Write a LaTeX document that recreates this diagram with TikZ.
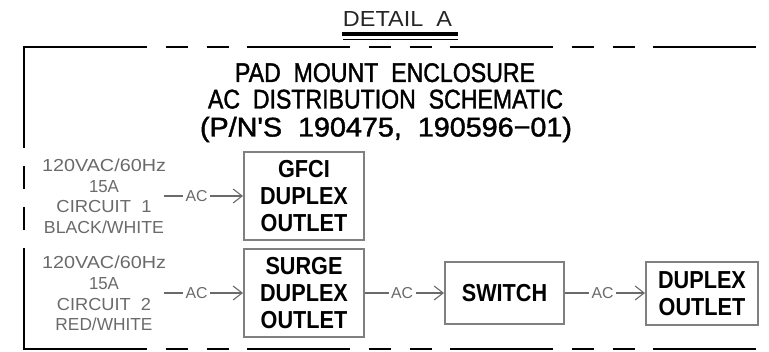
\documentclass[tikz,border=0pt]{standalone}
\usepackage{fontspec}
\usepackage{graphicx}
\setmainfont{Liberation Sans}
\newfontfamily\boxfont[FakeStretch=0.88]{Liberation Sans}
\newfontfamily\titlefont[FakeBold=1.5]{Liberation Sans}
\usetikzlibrary{arrows.meta}
\definecolor{lblgray}{HTML}{6A6A6A}
\definecolor{boxgray}{HTML}{808080}
\newcommand\fitw[2]{\resizebox{#1}{\height}{#2}}
\begin{document}
\begin{tikzpicture}[x=1pt,y=-1pt,
  border/.style={line width=2.5pt, black},
  dashedborder/.style={border, dash pattern=on 103pt off 18.5pt on 22.5pt off 18.5pt on 22.5pt off 18pt, dash phase=103pt},
  unit/.style={draw=boxgray, line width=2pt, inner sep=0pt, align=center, font=\boxfont\bfseries\fontsize{24.6pt}{27pt}\selectfont},
  circ/.style={inner sep=0pt, align=center, text=lblgray, font=\fontsize{17.4pt}{20.6pt}\selectfont},
  title/.style={inner sep=0pt, anchor=base, font=\titlefont\fontsize{27pt}{27pt}\selectfont},
  conn/.style={draw=lblgray, line width=1.1pt, -{Straight Barb[length=9pt,width=14pt]}},
  ac/.style={fill=white, inner sep=2.5pt, text=lblgray, font=\fontsize{15.8pt}{16pt}\selectfont}
]
\path[use as bounding box] (0,0) rectangle (769,352);
% enclosure border
\draw[border] (24,148) -- (24,47) -- (147,47);
\draw[dashedborder] (147,47) -- (769,47);
\draw[dashedborder] (24,148) -- (24,248);
\draw[border] (24,248) -- (24,349) -- (147,349);
\draw[dashedborder] (147,349) -- (769,349);
% detail label
\node[inner sep=0pt, anchor=base, text=black!85, font=\fontsize{21.8pt}{22pt}\selectfont] (det) at (397.5,27) {\fitw{109pt}{DETAIL\ \ A}};
\draw[line width=4pt] (342,34) -- (458,34);
\draw[line width=1.2pt] (343,39.5) -- (458,39.5);
% title
\node[title] (t1) at (385,82) {\fitw{300pt}{PAD\ \ MOUNT\ \ ENCLOSURE}};
\node[title] (t2) at (385.5,108.5) {\fitw{355pt}{AC\ \ DISTRIBUTION\ \ SCHEMATIC}};
\node[title] (t3) at (386,136.5) {\fitw{372pt}{(P/N'S\ \ 190475,\ \ 190596−01)}};
% circuit labels
\node[circ] (c1) at (104,196.3) {\fitw{124pt}{120VAC/60Hz}\\\fitw{30pt}{15A}\\\fitw{95pt}{CIRCUIT\ \ 1}\\\fitw{120pt}{BLACK/WHITE}};
\node[circ] (c2) at (104,293.5) {\fitw{124pt}{120VAC/60Hz}\\\fitw{30pt}{15A}\\\fitw{94pt}{CIRCUIT\ \ 2}\\\fitw{97pt}{RED/WHITE}};
% units
\node[unit, minimum width=120pt, minimum height=88pt] (gfci) at (304,196) {GFCI\\DUPLEX\\OUTLET};
\node[unit, minimum width=120pt, minimum height=88pt] (surge) at (304,293) {SURGE\\DUPLEX\\OUTLET};
\node[unit, minimum width=119pt, minimum height=62pt] (switch) at (504.5,293) {SWITCH};
\node[unit, minimum width=112pt, minimum height=63pt] (duplex) at (702,293.5) {DUPLEX\\OUTLET};
% connectors
\draw[conn] ([xshift=-2pt]c1.east |- gfci.west) -- node[ac,pos=0.41]{AC} (gfci.west);
\draw[conn] ([xshift=-2pt]c2.east |- surge.west) -- node[ac,pos=0.41]{AC} (surge.west);
\draw[conn] (surge.east) -- node[ac,pos=0.47]{AC} (surge.east -| switch.west);
\draw[conn] (switch.east) -- node[ac,pos=0.47]{AC} (switch.east -| duplex.west);
\end{tikzpicture}
\end{document}
